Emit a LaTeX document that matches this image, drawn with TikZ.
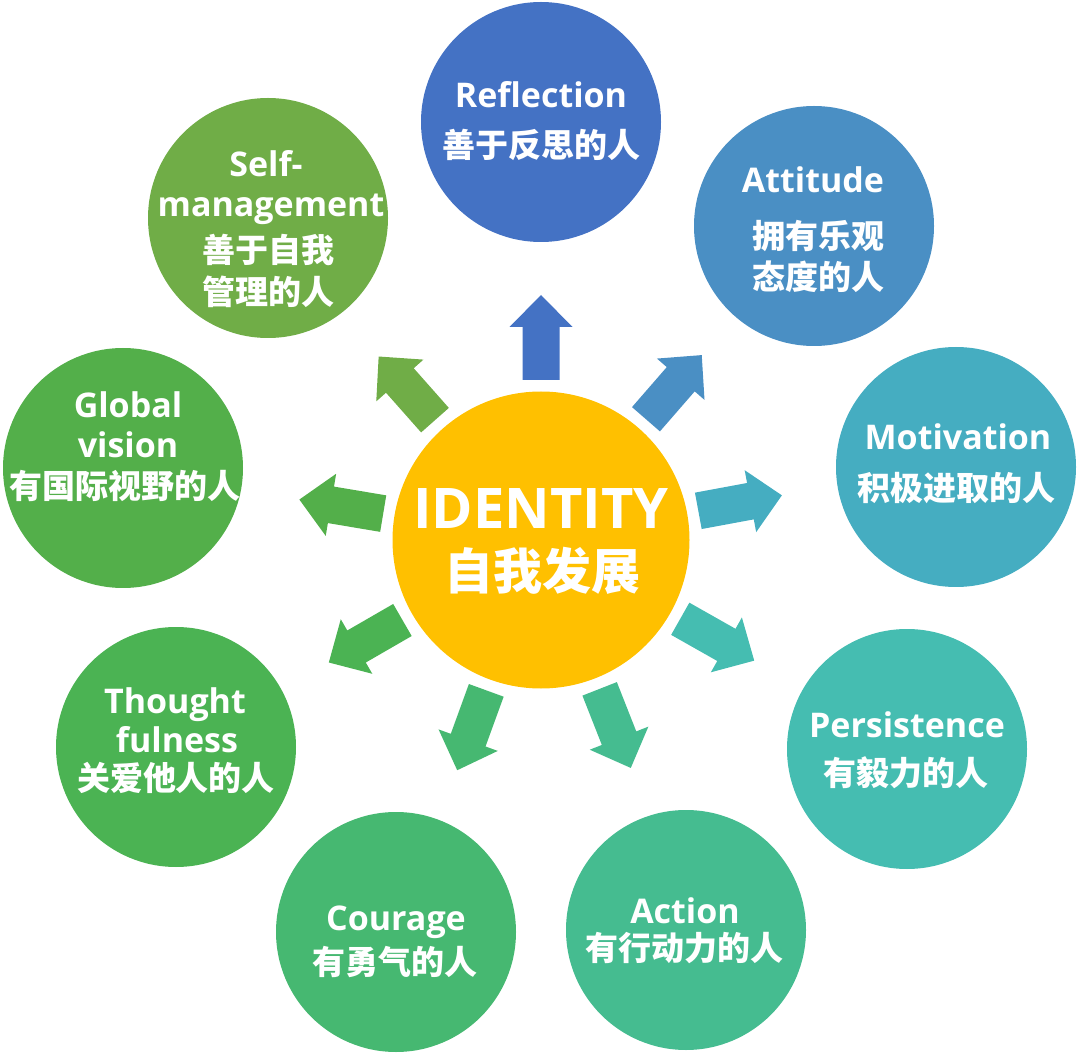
\documentclass[tikz,border=0pt]{standalone}
\usepackage{fontspec}
\setmainfont{Open Sans}
\newfontfamily\cjk{Noto Sans CJK SC}
\definecolor{cRef}{HTML}{4472C4}
\definecolor{cAtt}{HTML}{4A8FC4}
\definecolor{cMot}{HTML}{45ADC1}
\definecolor{cPer}{HTML}{45BDB1}
\definecolor{cAct}{HTML}{45BC90}
\definecolor{cCou}{HTML}{46B871}
\definecolor{cTho}{HTML}{4BB353}
\definecolor{cGlo}{HTML}{53AF4A}
\definecolor{cSel}{HTML}{70AD47}
\definecolor{cCtr}{HTML}{FFC000}
\tikzset{
  bubble/.style={circle, minimum size=240pt, inner sep=0pt},
  en/.style={text=white, font=\bfseries\fontsize{34}{34}\selectfont, anchor=base, inner sep=0pt},
  zh/.style={text=white, font=\cjk\bfseries\fontsize{33}{33}\selectfont, anchor=base, inner sep=0pt},
}
\newcommand\blockarrow[2]{%
  \begin{scope}[shift={(ctr.center)}, rotate=#1]
    \fill[#2] (160,-18.5) -- (213,-18.5) -- (213,-31.5) -- (245,0) -- (213,31.5) -- (213,18.5) -- (160,18.5) -- cycle;
  \end{scope}}
\begin{document}
\begin{tikzpicture}[x=1pt, y=1pt]
\useasboundingbox (0,0) rectangle (1080,-1056);
% centre
\node[circle, fill=cCtr, minimum size=297pt, inner sep=0pt] (ctr) at (541,-540) {};
\node[text=white, font=\bfseries\fontsize{56}{56}\selectfont, anchor=base, inner sep=0pt] (ctrEn) at (541,-529) {IDENTITY};
\node[text=white, font=\cjk\bfseries\fontsize{49}{49}\selectfont, anchor=base, inner sep=0pt] (ctrZh) at (542,-590) {自我发展};
% bubbles
\node[bubble, fill=cRef] (ref) at (541,-122) {};
\node[bubble, fill=cAtt] (att) at (814,-226) {};
\node[bubble, fill=cMot] (mot) at (956,-467) {};
\node[bubble, fill=cPer] (per) at (907,-749) {};
\node[bubble, fill=cAct] (act) at (686,-930) {};
\node[bubble, fill=cCou] (cou) at (396,-932) {};
\node[bubble, fill=cTho] (tho) at (176,-747) {};
\node[bubble, fill=cGlo] (glo) at (123,-468) {};
\node[bubble, fill=cSel] (sel) at (268,-218) {};
% arrows
\blockarrow{90}{cRef}
\blockarrow{49}{cAtt}
\blockarrow{10.5}{cMot}
\blockarrow{-29.5}{cPer}
\blockarrow{-68.5}{cAct}
\blockarrow{-110}{cCou}
\blockarrow{210}{cTho}
\blockarrow{170.5}{cGlo}
\blockarrow{131.5}{cSel}
% labels
\node[en] (refEn) at (541,-108) {Reflection};
\node[zh] (refZh) at (541,-158) {善于反思的人};
\node[en] (attEn) at (813,-193) {Attitude};
\node[zh] (attZh1) at (818,-249) {拥有乐观};
\node[zh] (attZh2) at (818,-290) {态度的人};
\node[en] (motEn) at (958,-450) {Motivation};
\node[zh] (motZh) at (956,-501) {积极进取的人};
\node[en] (perEn) at (907,-737) {Persistence};
\node[zh] (perZh) at (906,-785) {有毅力的人};
\node[en] (actEn) at (685,-923) {Action};
\node[zh] (actZh) at (684,-960) {有行动力的人};
\node[en] (couEn) at (396,-930) {Courage};
\node[zh] (couZh) at (395,-974) {有勇气的人};
\node[en] (thoEn1) at (175,-713) {Thought};
\node[en] (thoEn2) at (177,-752) {fulness};
\node[zh] (thoZh) at (176,-790) {关爱他人的人};
\node[en] (gloEn1) at (128,-418) {Global};
\node[en] (gloEn2) at (128,-458) {vision};
\node[zh] (gloZh) at (125,-499) {有国际视野的人};
\node[en] (selEn1) at (266,-177) {Self-};
\node[en] (selEn2) at (271,-217) {management};
\node[zh] (selZh1) at (268,-263) {善于自我};
\node[zh] (selZh2) at (268,-305) {管理的人};
\end{tikzpicture}
\end{document}
